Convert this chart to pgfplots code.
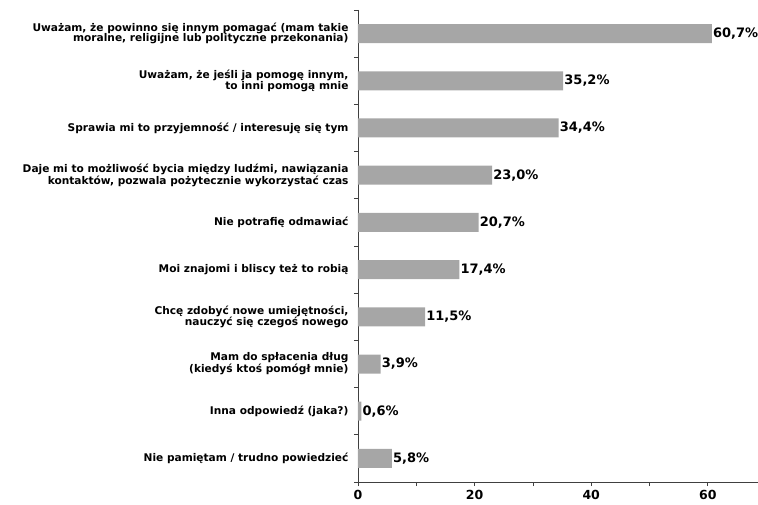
\documentclass[border=0pt]{standalone}
\usepackage{fontspec}
\setmainfont{DejaVu Sans}
\usepackage{pgfplots}
\pgfplotsset{compat=1.18}

\definecolor{bargray}{HTML}{A6A6A6}
\definecolor{axisgray}{HTML}{404040}

\begin{document}
\begin{tikzpicture}
	\begin{axis}[
	scale only axis,
	width=400pt, height=472pt,
	xbar,
	bar width=19pt,
	xmin=0, xmax=68.6,
	ymin=-0.5, ymax=9.5,
	y dir=reverse,
	axis x line=bottom,
	axis y line=left,
	axis line style={-, axisgray, line width=0.8pt},
	xtick={0,20,40,60},
	minor xtick={10,30,50},
	tick style={axisgray, line width=0.8pt},
	tick align=outside,
	major tick length=4pt,
	minor tick length=4pt,
	xticklabel style={font=\fontsize{12.5}{12.5}\selectfont\bfseries, inner ysep=0pt, yshift=-4pt},
	/pgf/number format/assume math mode=true,
	ytick={-0.5,0.5,...,9.5},
	yticklabels={},
	extra y ticks={0,...,9},
	extra y tick style={tick style={draw=none}},
	extra y tick labels={
		{Uważam, że powinno się innym pomagać (mam takie\\moralne, religijne lub polityczne przekonania)},
		{Uważam, że jeśli ja pomogę innym,\\to inni pomogą mnie},
		{Sprawia mi to przyjemność / interesuję się tym},
		{Daje mi to możliwość bycia między ludźmi, nawiązania\\kontaktów, pozwala pożytecznie wykorzystać czas},
		{Nie potrafię odmawiać},
		{Moi znajomi i bliscy też to robią},
		{Chcę zdobyć nowe umiejętności,\\nauczyć się czegoś nowego},
		{Mam do spłacenia dług\\(kiedyś ktoś pomógł mnie)},
		{Inna odpowiedź (jaka?)},
		{Nie pamiętam / trudno powiedzieć}
	},
	yticklabel style={font=\fontsize{10.6}{10.6}\selectfont\bfseries, align=right, xshift=-2pt},
	nodes near coords={\pgfmathprintnumber[fixed, precision=1, fixed zerofill, use comma]{\pgfplotspointmeta}\%},
	point meta=x,
	every node near coord/.append style={font=\fontsize{13}{13}\selectfont\bfseries, anchor=west, inner xsep=1pt, black},
	clip=false,
	]
	
	% share of answers, percent
	\addplot[fill=bargray, draw=none]
	coordinates {(60.7,0)(35.2,1)(34.4,2)(23.0,3)(20.7,4)(17.4,5)(11.5,6)(3.9,7)(0.6,8)(5.8,9)};
	\end{axis}
	\pgfresetboundingbox
	\path[use as bounding box] (-358pt,-23pt) rectangle (400pt,482pt);
\end{tikzpicture}
\end{document}
